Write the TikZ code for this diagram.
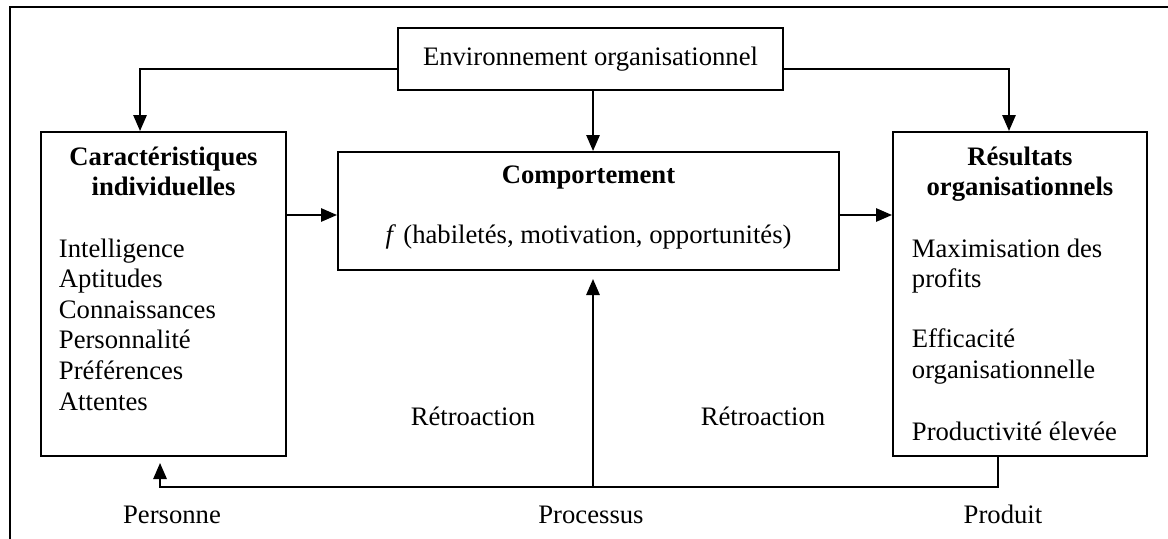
\documentclass[tikz,border=0pt]{standalone}
\usepackage{fontspec}
\setmainfont{Liberation Serif}
\usetikzlibrary{arrows.meta}
\begin{document}
\begin{tikzpicture}[x=0.75pt,y=-0.75pt,
  line width=1.4pt,
  box/.style={draw,line width=1.5pt,inner sep=0pt,rectangle},
  txt/.style={inner sep=0pt,font=\fontsize{20}{23}\selectfont},
  head/.style={inner sep=0pt,font=\fontsize{20}{23}\selectfont\bfseries},
  arr/.style={-{Triangle[length=12pt,width=10pt]}},
]
\useasboundingbox (0,0) rectangle (1168,539);

% outer frame (top and left sides)
\coordinate (fTL) at (10,7);
\coordinate (fTR) at (1168,7);
\coordinate (fBL) at (10,539);
\draw (fTR) -- (fTL) -- (fBL);

% boxes
\node[box,minimum width=288.75pt,minimum height=46.5pt,
      font=\fontsize{20}{23}\selectfont] (env) at (590.5,59) {Environnement organisationnel};
\node[box,minimum width=183.75pt,minimum height=243pt] (left) at (163.5,294) {};
\node[box,minimum width=190.5pt,minimum height=243pt] (right) at (1020,294) {};
\node[box,minimum width=375.75pt,minimum height=88.5pt] (comp) at (588.5,211) {};

% left box content
\node[head,anchor=base] (lt1) at (163.5,165) {Caractéristiques};
\node[head,anchor=base] (lt2) at (163.5,195) {individuelles};
\node[txt,anchor=base west] (li1) at (58,257) {Intelligence};
\node[txt,anchor=base west] (li2) at (58,287.6) {Aptitudes};
\node[txt,anchor=base west] (li3) at (58,318.2) {Connaissances};
\node[txt,anchor=base west] (li4) at (58,348.8) {Personnalité};
\node[txt,anchor=base west] (li5) at (58,379.4) {Préférences};
\node[txt,anchor=base west] (li6) at (58,410) {Attentes};

% right box content
\node[head,anchor=base] (rt1) at (1020,165) {Résultats};
\node[head,anchor=base] (rt2) at (1020,195) {organisationnels};
\node[txt,anchor=base west] (ri1) at (911,257) {Maximisation des};
\node[txt,anchor=base west] (ri2) at (911,287.6) {profits};
\node[txt,anchor=base west] (ri3) at (911,347) {Efficacité};
\node[txt,anchor=base west] (ri4) at (911,378) {organisationnelle};
\node[txt,anchor=base west] (ri5) at (911,440) {Productivité élevée};

% behaviour box content
\node[head,anchor=base] (ct1) at (588.5,183) {Comportement};
\node[txt,anchor=base] (ct2) at (588.5,243) {\textit{f}\;(habiletés, motivation, opportunités)};

% free labels
\node[txt,anchor=base] (fb1) at (473,425) {Rétroaction};
\node[txt,anchor=base] (fb2) at (763,425) {Rétroaction};
\node[txt,anchor=base] (lp1) at (172,523) {Personne};
\node[txt,anchor=base] (lp2) at (591,523) {Processus};
\node[txt,anchor=base] (lp3) at (1003,523) {Produit};

% connectors from the environment
\draw[arr] ([yshift=-7.5pt]env.west) -| ([xshift=-17.6pt]left.north);
\draw[arr] ([yshift=-7.5pt]env.east) -| ([xshift=-8.25pt]right.north);
\draw[arr] ([xshift=1.9pt]env.south) -- ([xshift=1.9pt]env.south |- comp.north);

% main flow
\coordinate (cin) at ([yshift=-3pt]comp.west);
\coordinate (cout) at ([yshift=-3pt]comp.east);
\draw[arr] (cin -| left.east) -- (cin);
\draw[arr] (cout) -- (cout -| right.west);

% feedback loop
\coordinate (rb) at ([xshift=-16.5pt]right.south);
\coordinate (lb) at ([xshift=-2.6pt]left.south);
\coordinate (loop) at (593,487);
\draw[arr,shorten >=4.5pt] (rb) -- (rb |- loop) -| (lb);
\draw[arr,shorten >=6pt] (loop) -- (loop |- comp.south);
\end{tikzpicture}
\end{document}
